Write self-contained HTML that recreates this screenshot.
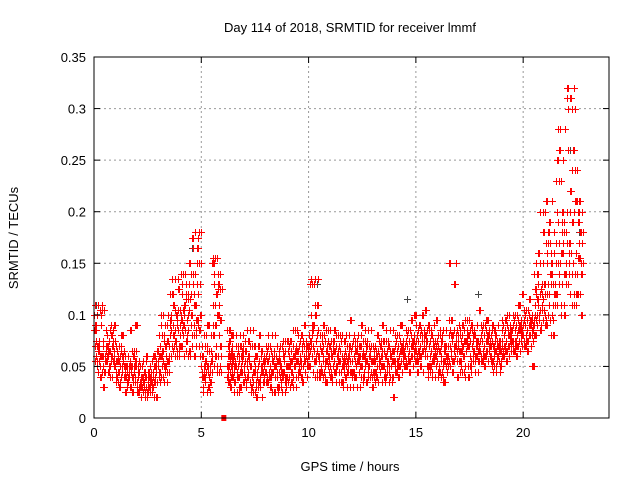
<!DOCTYPE html>
<html><head><meta charset="utf-8"><style>
html,body{margin:0;padding:0;background:#fff;}
svg{display:block;font-family:"Liberation Sans",sans-serif;}
</style></head><body>
<svg id="chart" width="640" height="480">
<rect width="640" height="480" fill="#fff"/>
<text x="350" y="32" font-size="13" text-anchor="middle">Day 114 of 2018, SRMTID for receiver lmmf</text>
<text x="350" y="471" font-size="13" text-anchor="middle">GPS time / hours</text>
<text transform="translate(18,238) rotate(-90)" font-size="13" text-anchor="middle">SRMTID / TECUs</text>
<g id="grid"></g>
<g id="gray"></g>
<g id="red"></g>
<rect x="94" y="57" width="515" height="361" fill="none" stroke="#000" stroke-width="1"/>
<g id="ticks"></g>
</svg>
<script>
const xTicks=[0,5,10,15,20];
const xTickLabels=["0","5","10","15","20"];
const yTicks=[0,0.05,0.1,0.15,0.2,0.25,0.3,0.35];
const yTickLabels=["0","0.05","0.1","0.15","0.2","0.25","0.3","0.35"];
const bucketStarts=[0,0.5,1,1.5,2,2.5,3,3.5,4,4.5,5,5.5,6.2,6.5,7,7.5,8,8.5,9,9.5,10,10.5,11,11.5,12,12.5,13,13.5,14,14.5,15,15.5,16,16.5,17,17.5,18,18.5,19,19.5,20,20.5,21,21.5,22,22.5];
const bucketEnds=[0.5,1,1.5,2,2.5,3,3.5,4,4.5,5,5.5,5.95,6.5,7,7.5,8,8.5,9,9.5,10,10.5,11,11.5,12,12.5,13,13.5,14,14.5,15,15.5,16,16.5,17,17.5,18,18.5,19,19.5,20,20.5,21,21.5,22,22.5,22.8];
// values in milli-TECU per bucket
const bucketValues=[
[100,110,85,60,70,55,45,65,75,50,40,90,105,60,70,30],
[60,70,55,80,45,65,75,50,85,60,40,70,55,90,65,50],
[45,55,40,60,35,70,50,30,65,45,80,55,40,50,60,25],
[40,50,35,60,45,30,55,85,40,50,25,45,65,35,50,90],
[30,40,25,45,35,50,20,40,30,55,35,45,25,40,30,60],
[35,45,30,50,25,40,55,30,45,35,60,40,20,50,35,65],
[50,60,45,70,40,80,55,65,35,90,50,60,75,45,100,55],
[70,90,60,100,120,80,65,110,85,135,75,95,60,105,70,125],
[80,100,70,120,90,140,60,110,85,130,75,95,115,65,105,150],
[90,120,100,165,140,80,180,110,70,130,95,175,85,150,60,100],
[50,40,60,30,45,70,35,55,25,50,90,40,65,45,80,55],
[60,110,150,130,90,155,70,120,50,140,100,80,45,125,60,95],
[50,70,40,60,85,35,55,75,45,65,30,50,80,40,60,55],
[45,60,35,70,50,25,65,40,55,80,30,50,60,45,70,35],
[50,40,65,30,55,75,45,60,35,85,50,40,70,25,55,45],
[50,35,60,45,70,30,55,80,40,50,65,20,45,60,35,55],
[45,60,35,55,70,40,50,30,65,80,45,55,25,60,40,50],
[40,55,30,60,45,70,35,50,25,65,45,55,40,75,30,50],
[50,65,40,60,75,35,55,45,70,30,60,50,85,40,55,65],
[55,70,45,60,80,50,65,35,75,55,90,45,60,70,40,50],
[60,80,50,100,70,130,45,90,65,135,55,75,110,40,85,60],
[55,70,45,65,80,40,60,90,50,75,35,65,55,85,45,70],
[50,65,40,60,75,45,55,85,35,70,50,60,80,45,65,55],
[45,60,35,55,75,50,65,40,80,30,60,50,70,45,55,95],
[55,70,45,60,40,75,50,65,30,80,55,45,70,60,40,90],
[50,65,40,60,75,35,55,70,45,85,50,60,40,70,55,30],
[45,60,55,70,40,65,50,80,35,60,55,45,75,50,65,90],
[50,65,40,60,75,45,55,70,35,85,50,60,40,65,55,20],
[55,70,45,65,80,50,60,40,75,55,90,45,65,70,50,60],
[60,75,50,70,85,55,65,45,80,60,95,50,70,75,55,100],
[65,80,55,75,90,60,70,50,85,65,100,45,75,80,60,105],
[60,75,50,70,85,45,65,80,40,70,55,90,60,75,50,95],
[55,70,45,65,80,40,60,75,50,85,35,65,55,70,45,60],
[60,80,50,70,95,55,75,45,85,65,130,150,70,55,80,40],
[65,80,55,75,90,45,70,60,85,50,75,65,95,40,70,80],
[60,75,50,70,85,55,65,80,45,70,60,90,55,75,65,105],
[65,80,55,75,90,60,70,50,85,65,95,55,75,80,60,70],
[60,75,55,70,85,50,65,80,45,70,60,90,55,75,65,50],
[70,85,60,80,95,65,75,55,90,70,100,60,80,85,65,75],
[75,90,65,85,100,70,80,60,95,75,110,65,85,90,70,120],
[80,95,70,90,105,75,85,65,100,80,115,70,90,95,75,50],
[90,110,80,120,140,100,130,160,95,150,85,125,105,200,115,180],
[100,130,90,150,120,170,110,190,95,160,140,210,80,130,180,120],
[130,170,120,200,150,230,140,260,110,190,160,250,100,180,280,140],
[150,200,130,260,170,310,120,220,300,140,190,320,110,240,160,210],
[140,190,120,170,210,155,100,180,200,150]
];
const zeroPointTimes=[6.05];
const zeroPointValues=[0];
const grayTimes=[0.1,4.55,4.7,10.4,14.6,17.9,21.3,21.8,22.2,22.6];
const grayValues=[0.11,0.165,0.18,0.13,0.115,0.12,0.16,0.19,0.26,0.18];

const NS="http://www.w3.org/2000/svg";
const X0=94,X1=609,Y0=418,Y1=57,XMAX=24,YMAX=0.35;
function xs(t){return X0+(X1-X0)*t/XMAX;}
function ys(v){return Y0-(Y0-Y1)*v/YMAX;}
const grid=document.getElementById('grid');
const ticks=document.getElementById('ticks');
function mk(tag,attrs,parent){
  const e=document.createElementNS(NS,tag);
  for(const k in attrs){e.setAttribute(k,attrs[k]);}
  parent.appendChild(e);
  return e;
}
xTicks.forEach(function(t,i){
  const x=xs(t);
  if(i>0){
    const g=mk('line',{x1:x,y1:Y0,x2:x,y2:Y1,stroke:'#999','stroke-dasharray':'2,3'},grid);
    
    
  }
  mk('line',{x1:x,y1:Y0,x2:x,y2:Y0-6,stroke:'#000'},ticks);
  mk('line',{x1:x,y1:Y1,x2:x,y2:Y1+6,stroke:'#000'},ticks);
  const tx=mk('text',{x:x,y:Y0+19,'font-size':13,'text-anchor':'middle'},ticks);
  tx.textContent=xTickLabels[i];
  
  
});
yTicks.forEach(function(v,i){
  const y=ys(v);
  if(i>0&&i<yTicks.length-1){
    const g=mk('line',{x1:X0,y1:y,x2:X1,y2:y,stroke:'#999','stroke-dasharray':'2,3'},grid);
    
    
  }
  mk('line',{x1:X0,y1:y,x2:X0+6,y2:y,stroke:'#000'},ticks);
  mk('line',{x1:X1,y1:y,x2:X1-6,y2:y,stroke:'#000'},ticks);
  const tx=mk('text',{x:X0-8,y:y+5,'font-size':13,'text-anchor':'end'},ticks);
  tx.textContent=yTickLabels[i];
  
  
});
function plus(parent,t,v,color,name){
  const x=Math.round(xs(t))+0.5;
  const y=Math.round(ys(v))+0.5;
  const p=mk('path',{d:'M'+(x-3.5)+','+y+'H'+(x+3.5)+'M'+x+','+(y-3.5)+'V'+(y+3.5),stroke:color,'stroke-width':1,fill:'none'},parent);
  
  
}
const gray=document.getElementById('gray');
const red=document.getElementById('red');
grayTimes.forEach(function(t,i){plus(gray,t,grayValues[i],'#444','gray-point');});
// each bucket's readings are drawn in three interleaved passes with different orderings
const strides=[1,3,7];
bucketValues.forEach(function(vals,b){
  const s=bucketStarts[b],e=bucketEnds[b],n=vals.length;
  strides.forEach(function(st,p){
    for(let j=0;j<n;j++){
      const mv=vals[(j*st+p*2)%n];
      const t=s+(e-s)*(j+(p+0.5)/3)/n;
      plus(red,t,mv/1000,'#ff0000','red-point');
    }
  });
});
zeroPointTimes.forEach(function(t,i){
  const r=mk('rect',{x:xs(t)-2.5,y:ys(zeroPointValues[i])-3,width:5,height:6,fill:'#ff0000'},red);
  
  
});
</script>
</body></html>
